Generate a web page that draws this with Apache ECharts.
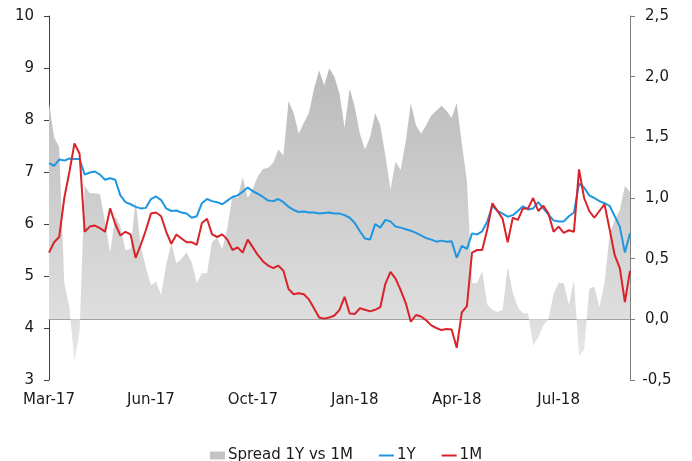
<!DOCTYPE html>
<html>
<head>
<meta charset="utf-8">
<script src="https://cdn.jsdelivr.net/npm/echarts@6/dist/echarts.min.js"></script>
<style>
    html, body { margin: 0; padding: 0; background: #fff; }
    #chart { width: 692px; height: 461px; }
</style>
</head>
<body>
<div id="chart"></div>
<script>
// x-axis tick labels, one every labelStep points
var tickLabels = ['Mar-17', 'Jun-17', 'Oct-17', 'Jan-18', 'Apr-18', 'Jul-18'];
var labelStep = 20;

// 1Y rate (left axis)
var oneY = [7.17, 7.12, 7.24, 7.22, 7.26, 7.25, 7.25, 6.95, 6.99, 7.01,
    6.95, 6.85, 6.88, 6.85, 6.55, 6.42, 6.38, 6.33, 6.30, 6.31,
    6.48, 6.53, 6.46, 6.30, 6.25, 6.26, 6.22, 6.20, 6.12, 6.15,
    6.40, 6.48, 6.44, 6.42, 6.38, 6.45, 6.52, 6.55, 6.62, 6.70,
    6.63, 6.58, 6.52, 6.45, 6.44, 6.48, 6.42, 6.33, 6.27, 6.23,
    6.24, 6.22, 6.22, 6.20, 6.21, 6.22, 6.20, 6.20, 6.17, 6.12,
    6.02, 5.86, 5.72, 5.70, 6.00, 5.93, 6.08, 6.05, 5.95, 5.93,
    5.90, 5.87, 5.83, 5.78, 5.73, 5.70, 5.66, 5.68, 5.66, 5.67,
    5.35, 5.58, 5.52, 5.82, 5.80, 5.86, 6.05, 6.35, 6.25, 6.20,
    6.14, 6.17, 6.25, 6.34, 6.28, 6.30, 6.42, 6.30, 6.18, 6.07,
    6.05, 6.05, 6.15, 6.22, 6.78, 6.70, 6.55, 6.50, 6.44, 6.40,
    6.35, 6.15, 5.95, 5.45, 5.82];

// 1M rate (left axis)
var oneM = [5.45, 5.65, 5.75, 6.50, 7.00, 7.55, 7.35, 5.85, 5.95, 5.97,
    5.92, 5.85, 6.30, 6.00, 5.78, 5.85, 5.80, 5.35, 5.60, 5.88,
    6.20, 6.22, 6.15, 5.85, 5.62, 5.80, 5.72, 5.65, 5.65, 5.60,
    6.02, 6.10, 5.80, 5.75, 5.80, 5.70, 5.50, 5.55, 5.45, 5.70,
    5.55, 5.40, 5.28, 5.20, 5.15, 5.20, 5.10, 4.75, 4.65, 4.67,
    4.65, 4.55, 4.38, 4.20, 4.18, 4.20, 4.24, 4.35, 4.60, 4.28,
    4.27, 4.38, 4.35, 4.32, 4.35, 4.40, 4.85, 5.08, 4.95, 4.73,
    4.48, 4.12, 4.25, 4.22, 4.15, 4.05, 4.00, 3.96, 3.98, 3.97,
    3.62, 4.30, 4.42, 5.45, 5.50, 5.50, 5.90, 6.40, 6.25, 6.10,
    5.65, 6.12, 6.08, 6.30, 6.30, 6.50, 6.25, 6.35, 6.20, 5.85,
    5.95, 5.83, 5.88, 5.85, 7.05, 6.50, 6.25, 6.12, 6.25, 6.38,
    5.90, 5.40, 5.15, 4.50, 5.10];

// spread 1Y vs 1M (right axis)
var spread = [1.78, 1.50, 1.42, 0.30, 0.10, -0.35, -0.10, 1.10, 1.04, 1.04,
    1.03, 0.80, 0.55, 0.85, 0.77, 0.57, 0.58, 0.98, 0.60, 0.43,
    0.28, 0.31, 0.20, 0.45, 0.63, 0.46, 0.50, 0.55, 0.47, 0.30,
    0.38, 0.38, 0.64, 0.67, 0.58, 0.75, 1.02, 1.00, 1.17, 1.00,
    1.08, 1.18, 1.24, 1.25, 1.29, 1.40, 1.35, 1.80, 1.70, 1.53,
    1.62, 1.70, 1.90, 2.05, 1.93, 2.07, 2.00, 1.86, 1.58, 1.90,
    1.75, 1.53, 1.40, 1.50, 1.70, 1.60, 1.35, 1.07, 1.30, 1.23,
    1.47, 1.78, 1.60, 1.53, 1.60, 1.68, 1.72, 1.76, 1.72, 1.66,
    1.78, 1.45, 1.14, 0.30, 0.30, 0.40, 0.12, 0.08, 0.06, 0.08,
    0.43, 0.22, 0.10, 0.05, 0.05, -0.22, -0.15, -0.05, 0.00, 0.21,
    0.30, 0.30, 0.12, 0.32, -0.30, -0.25, 0.25, 0.27, 0.10, 0.30,
    0.70, 0.82, 0.90, 1.10, 1.05];

var categories = spread.map(function (v, i) {
    return i % labelStep === 0 ? tickLabels[i / labelStep] : '#' + i;
});

var font = 'DejaVu Sans';
var textColor = '#1a1a1a';
// thin bar used as the legend mark of the two lines
var lineIcon = 'path://M0,3h15v2h-15z';

var chart = echarts.init(document.getElementById('chart'));

var option = {
    animation: false,
    grid: { left: 49, right: 62, top: 16, bottom: 81 },
    legend: {
        left: 'center',
        top: 443,
        itemWidth: 15,
        itemHeight: 8,
        itemGap: 26,
        textStyle: { fontFamily: font, fontSize: 15, color: textColor, padding: [0, 0, 0, -2] },
        data: [
            { name: 'Spread 1Y vs 1M', icon: 'rect' },
            { name: '1Y', icon: lineIcon },
            { name: '1M', icon: lineIcon }
        ]
    },
    xAxis: {
        type: 'category',
        data: categories,
        boundaryGap: false,
        axisLine: { lineStyle: { color: '#8c8c8c' } },
        axisTick: { show: false },
        axisLabel: {
            interval: labelStep - 1,
            margin: 13,
            fontFamily: font, fontSize: 15, color: textColor
        },
        splitLine: { show: false }
    },
    yAxis: [
        {
            type: 'value',
            min: 3, max: 10, interval: 1,
            axisLine: { show: true, lineStyle: { color: '#404040' } },
            axisTick: { show: true, length: 5, lineStyle: { color: '#404040' } },
            axisLabel: { margin: 15, fontFamily: font, fontSize: 15, color: textColor },
            splitLine: { show: false }
        },
        {
            type: 'value',
            position: 'right',
            min: -0.5, max: 2.5, interval: 0.5,
            axisLine: { show: true, lineStyle: { color: '#7f7f7f' } },
            axisTick: { show: true, length: 5, lineStyle: { color: '#7f7f7f' } },
            axisLabel: {
                margin: 27,
                align: 'center',
                fontFamily: font, fontSize: 15, color: textColor,
                formatter: function (v) { return v.toFixed(1).replace('.', ','); }
            },
            splitLine: { show: false }
        }
    ],
    series: [
        {
            name: 'Spread 1Y vs 1M',
            type: 'line',
            yAxisIndex: 1,
            data: spread,
            symbol: 'none',
            lineStyle: { width: 0 },
            itemStyle: { color: '#c4c4c4' },
            areaStyle: {
                opacity: 1,
                // darker at the top, lighter near zero
                color: new echarts.graphic.LinearGradient(0, 16, 0, 380, [
                    { offset: 0, color: '#b3b3b3' },
                    { offset: 0.83, color: '#dedede' },
                    { offset: 1, color: '#ececec' }
                ], true)
            },
            z: 1
        },
        {
            name: '1Y',
            type: 'line',
            data: oneY,
            symbol: 'none',
            lineStyle: { width: 2, color: '#1e96e0' },
            itemStyle: { color: '#1e96e0' },
            z: 3
        },
        {
            name: '1M',
            type: 'line',
            data: oneM,
            symbol: 'none',
            lineStyle: { width: 2, color: '#d9232a' },
            itemStyle: { color: '#d9232a' },
            z: 4
        }
    ]
};

chart.setOption(option);
</script>
</body>
</html>
